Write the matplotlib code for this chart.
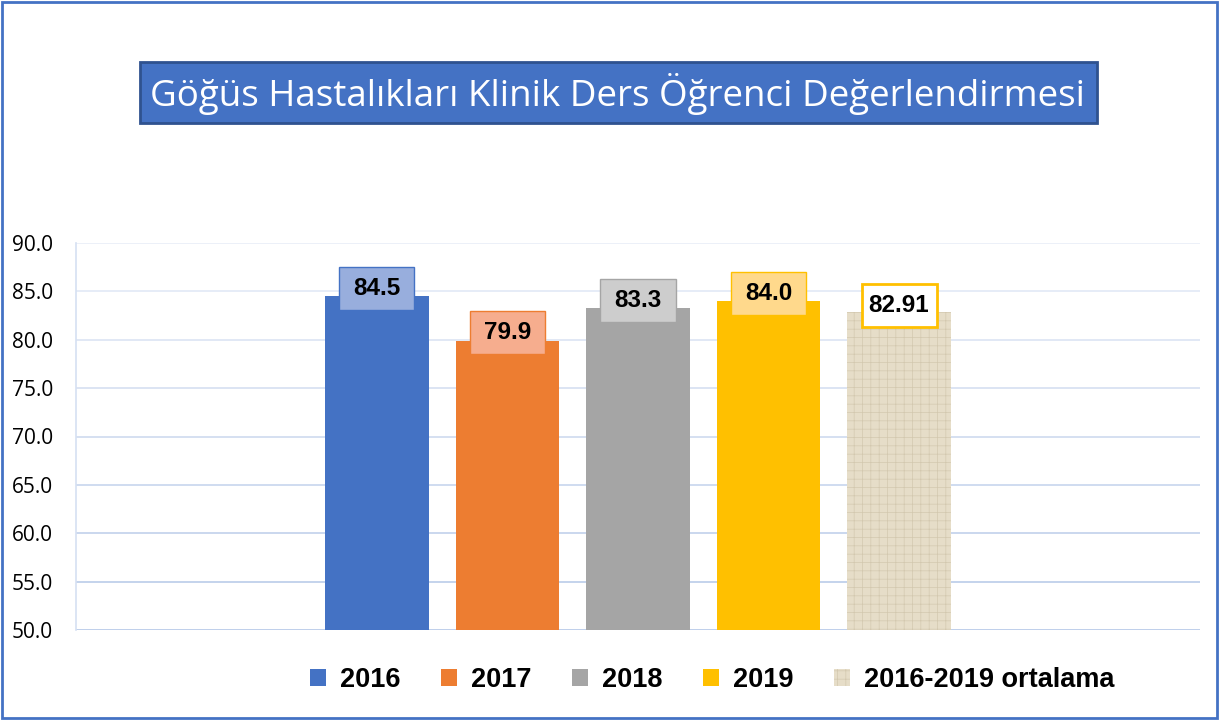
import numpy as np
import matplotlib
matplotlib.use("Agg")
from matplotlib import pyplot as plt
from matplotlib.patches import Rectangle

plt.rcParams['hatch.linewidth'] = 0.5

title = "Göğüs Hastalıkları Klinik Ders Öğrenci Değerlendirmesi"
series = ["2016", "2017", "2018", "2019", "2016-2019 ortalama"]
values = [84.5, 79.9, 83.3, 84.0, 82.91]
labels = ["84.5", "79.9", "83.3", "84.0", "82.91"]
yticks = [50, 55, 60, 65, 70, 75, 80, 85, 90]

bar_colors = ["#4472C4", "#ED7D31", "#A5A5A5", "#FFC000", "#E6DDC8"]
box_fill = ["#98AEDD", "#F6AD8E", "#CDCDCD", "#FFD98C", "#FFFFFF"]
box_edge = ["#4472C4", "#ED7D31", "#A5A5A5", "#FFC000", "#FFC000"]

bold_font = ['Liberation Sans', 'DejaVu Sans']

fig = plt.figure(figsize=(12.21, 7.2), dpi=100)

# outer border
fig.patches.append(Rectangle((0.002, 0.003), 0.995, 0.994, transform=fig.transFigure,
                             fill=False, edgecolor="#4472C4", linewidth=2))

# title box
fig.patches.append(Rectangle((140 / 1221, 1 - 123 / 720), 957 / 1221, 61 / 720,
                             transform=fig.transFigure, facecolor="#4472C4",
                             edgecolor="#2F528F", linewidth=2))
fig.text(618 / 1221, 1 - 94 / 720, title, color="white", fontsize=26.5,
         family=['Open Sans', 'DejaVu Sans'], ha="center", va="center")

ax = fig.add_axes([76 / 1221, 1 - 630 / 720, 1124 / 1221, 387 / 720])
x = np.arange(len(values))
w = 0.79
for i in range(len(values)):
    if i == 4:
        ax.bar(x[i], values[i] - 50, w, bottom=50, color=bar_colors[i],
               edgecolor="#D3C8AF", hatch="++", linewidth=0, label=series[i], zorder=3)
    else:
        ax.bar(x[i], values[i] - 50, w, bottom=50, color=bar_colors[i],
               label=series[i], zorder=3)

# data label boxes
bw, bh = 0.575, 4.44
for i in range(len(values)):
    cy = values[i] + (0.6 if i == 4 else 0.8)
    lw = 2 if i == 4 else 1
    ax.add_patch(Rectangle((x[i] - bw / 2, cy - bh / 2), bw, bh, facecolor=box_fill[i],
                           edgecolor=box_edge[i], linewidth=lw, zorder=4))
    ax.text(x[i], cy, labels[i], ha="center", va="center", fontsize=17.5,
            fontweight="bold", family=bold_font, zorder=5)

ax.set_ylim(50, 90)
ax.set_xlim(2 - 4.306, 2 + 4.306)
ax.set_yticks(yticks)
ax.set_yticklabels([f"{t:.1f}" for t in yticks], fontsize=15, ha="left",
                   family=['Open Sans', 'DejaVu Sans'])
ax.tick_params(axis="y", length=0, pad=46)
ax.set_xticks([])

# gridlines fading toward the top
fade = np.linspace(1.0, 0.3, len(yticks))
for t, a in zip(yticks, fade):
    ax.axhline(t, color="#B4C7E7", alpha=a, linewidth=1.2, zorder=1)

for s in ["top", "right", "bottom"]:
    ax.spines[s].set_visible(False)
ax.spines["left"].set_color("#D6E0F2")
ax.spines["left"].set_linewidth(1.2)

leg = fig.legend(loc="center", bbox_to_anchor=(712 / 1221, 1 - 680 / 720), ncol=5,
                 frameon=False, prop={'family': bold_font, 'weight': 'bold', 'size': 19.5},
                 handlelength=0.6, handleheight=0.6, handletextpad=0.5,
                 columnspacing=1.5)

fig.savefig("out.png", dpi=100)
